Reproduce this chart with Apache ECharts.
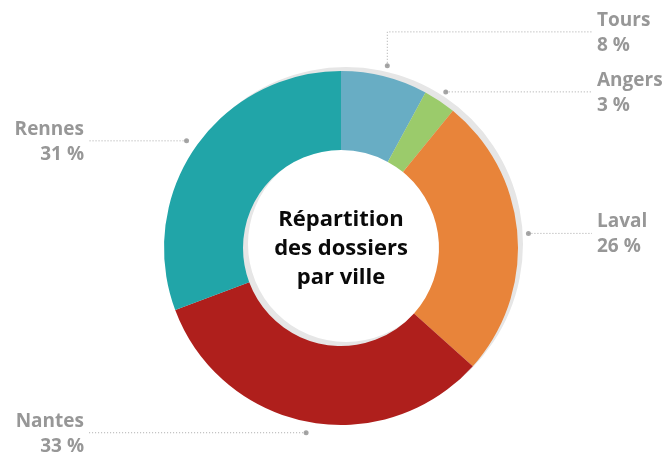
<!DOCTYPE html>
<html>
<head>
<meta charset="utf-8">
<script src="https://cdn.jsdelivr.net/npm/echarts@6/dist/echarts.min.js"></script>
<style>
  html, body { margin: 0; padding: 0; background: #fff; }
  #chart { width: 666px; height: 460px; }
</style>
</head>
<body>
<div id="chart"></div>
<script>
// données
var cities = ['Tours', 'Angers', 'Laval', 'Nantes', 'Rennes']
var shares = [8, 3, 26, 33, 31]
var colors = ['#68adc4', '#9bcb6b', '#e8843a', '#af1f1c', '#21a5a8']
var centerTitle = 'Répartition\ndes dossiers\npar ville'

var cx = 341, cy = 248
var rIn = 98, rOut = 177, rDot = 188
var total = shares.reduce(function (a, b) { return a + b }, 0)

// milieu de chaque part (en unités de valeur) pour les points
var mids = []
var acc = 0
shares.forEach(function (v) { mids.push(acc + v / 2); acc += v })

// hauteur des étiquettes : on remonte celles qui se chevauchent
var labelY = []
var sides = { left: [], right: [] }
mids.forEach(function (m, i) {
  var a = m / total * Math.PI * 2
  var x = cx + Math.sin(a) * rDot
  var y = cy - Math.cos(a) * rDot
  labelY[i] = y
  sides[x >= cx ? 'right' : 'left'].push(i)
})
Object.keys(sides).forEach(function (k) {
  var list = sides[k].slice().sort(function (a, b) { return labelY[b] - labelY[a] })
  for (var j = 1; j < list.length; j++) {
    labelY[list[j]] = Math.min(labelY[list[j]], labelY[list[j - 1]] - 60)
  }
})

var rightLineEnd = 592, leftLineEnd = 88

var chart = echarts.init(document.getElementById('chart'))
chart.setOption({
  animation: false,
  textStyle: { fontFamily: 'Open Sans' },
  polar: { center: [cx, cy], radius: rDot },
  radiusAxis: { type: 'value', min: 0, max: 1, show: false },
  angleAxis: { type: 'value', min: 0, max: total, startAngle: 90, clockwise: true, show: false },
  graphic: [{
    type: 'text',
    x: cx,
    y: cy + 1,
    style: {
      text: centerTitle,
      font: 'bold 22px "Open Sans"',
      fill: '#0a0a0a',
      textAlign: 'center',
      textVerticalAlign: 'middle',
      lineHeight: 29
    }
  }],
  series: [
    {
      // anneau gris décalé (ombre)
      type: 'pie',
      silent: true,
      center: [cx + 5, cy - 4],
      radius: [rIn, rOut],
      label: { show: false },
      itemStyle: { color: '#e6e6e6' },
      data: [{ value: 1 }]
    },
    {
      type: 'pie',
      silent: true,
      center: [cx, cy],
      radius: [rIn, rOut],
      startAngle: 90,
      label: { show: false },
      labelLine: { show: false },
      data: cities.map(function (c, i) {
        return { name: c, value: shares[i], itemStyle: { color: colors[i] } }
      })
    },
    {
      // série transparente qui porte les étiquettes
      type: 'pie',
      silent: true,
      center: [cx, cy],
      radius: [rIn, rDot],
      startAngle: 90,
      avoidLabelOverlap: false,
      itemStyle: { color: 'rgba(0,0,0,0)' },
      label: {
        show: true,
        formatter: '{b}\n{c} %',
        color: '#979797',
        fontSize: 19,
        fontWeight: 'bold',
        lineHeight: 25
      },
      labelLine: {
        show: true,
        length: 10,
        length2: 10,
        lineStyle: { color: '#a8a8a8', width: 1, type: [1, 2] }
      },
      labelLayout: function (params) {
        var p0 = params.labelLinePoints[0]
        var y = labelY[params.dataIndex]
        var right = p0[0] >= cx
        var endX = right ? rightLineEnd : leftLineEnd
        return {
          x: right ? endX + 5 : endX - 4,
          y: y + 1,
          align: right ? 'left' : 'right',
          verticalAlign: 'middle',
          labelLinePoints: [p0, [p0[0], y], [endX, y]]
        }
      },
      data: cities.map(function (c, i) {
        return { name: c, value: shares[i] }
      })
    },
    {
      type: 'scatter',
      coordinateSystem: 'polar',
      silent: true,
      symbolSize: 5,
      itemStyle: { color: '#8f8f8f' },
      data: mids.map(function (m) { return [1, m] })
    }
  ]
})
</script>
</body>
</html>
